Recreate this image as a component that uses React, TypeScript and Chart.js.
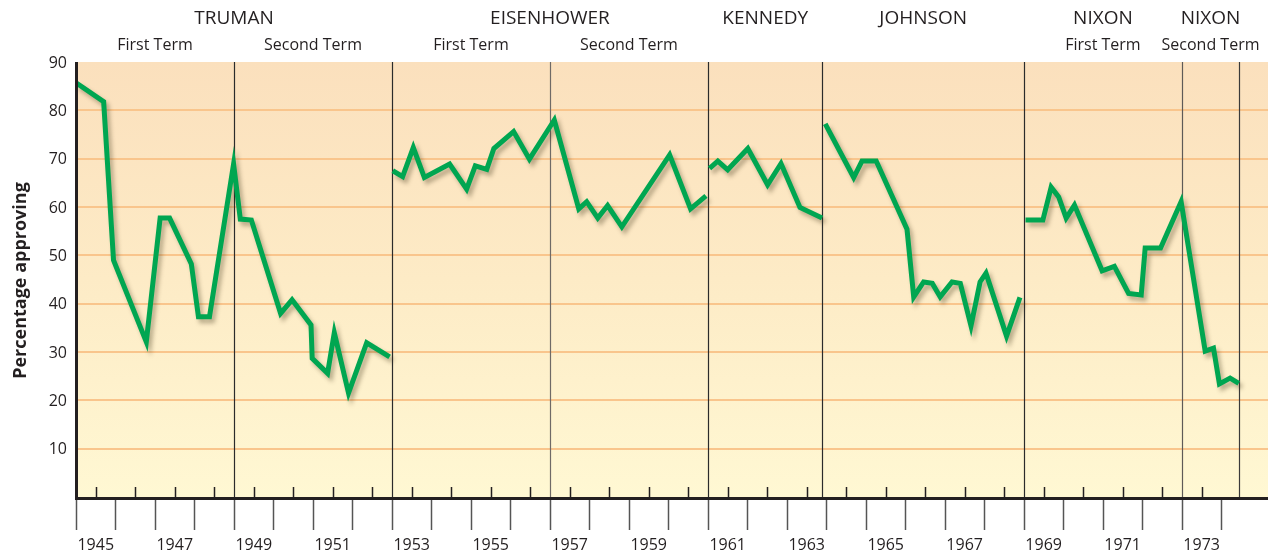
import React, { useEffect, useRef } from 'react';
import { Chart, registerables } from 'chart.js';

Chart.register(...registerables);

// ---- Data ----
const trumanYears = [1945.02, 1945.70, 1945.95, 1946.78, 1947.13, 1947.37, 1947.92, 1948.10, 1948.38, 1948.99, 1949.16, 1949.44, 1950.18, 1950.47, 1950.95, 1950.98, 1951.37, 1951.54, 1951.90, 1952.36, 1952.94];
const trumanValues = [85.6, 81.8, 49.0, 32.1, 57.7, 57.7, 48.2, 37.3, 37.3, 68.9, 57.5, 57.3, 38.0, 40.8, 35.6, 28.7, 25.6, 34.0, 21.5, 31.9, 29.0];

const eisenhowerYears = [1953.02, 1953.27, 1953.54, 1953.82, 1954.46, 1954.89, 1955.11, 1955.40, 1955.58, 1956.08, 1956.48, 1957.11, 1957.73, 1957.93, 1958.21, 1958.46, 1958.82, 1960.03, 1960.56, 1960.95];
const eisenhowerValues = [67.5, 66.3, 72.3, 66.1, 68.9, 63.7, 68.5, 67.8, 72.1, 75.6, 69.9, 78.0, 59.6, 61.1, 57.7, 60.3, 55.9, 70.8, 59.6, 62.3];

const kennedyYears = [1961.04, 1961.25, 1961.50, 1962.01, 1962.51, 1962.85, 1963.33, 1963.89];
const kennedyValues = [68.0, 69.5, 67.7, 72.1, 64.6, 69.0, 59.9, 57.7];

const johnsonYears = [1963.97, 1964.69, 1964.90, 1965.26, 1966.04, 1966.21, 1966.46, 1966.68, 1966.88, 1967.18, 1967.39, 1967.66, 1967.89, 1968.04, 1968.56, 1968.90];
const johnsonValues = [77.2, 66.1, 69.5, 69.5, 55.4, 41.4, 44.5, 44.2, 41.4, 44.5, 44.2, 35.4, 44.5, 46.3, 33.3, 41.3];

const nixonYears = [1969.04, 1969.48, 1969.69, 1969.88, 1970.07, 1970.28, 1970.98, 1971.29, 1971.65, 1971.97, 1972.07, 1972.46, 1972.98, 1973.59, 1973.80, 1973.95, 1974.22, 1974.44];
const nixonValues = [57.3, 57.3, 64.1, 62.1, 57.7, 60.4, 46.8, 47.7, 42.1, 41.8, 51.5, 51.5, 61.1, 30.2, 30.8, 23.4, 24.6, 23.5];

// ---- Labels / ticks ----
const presidentNames = ['TRUMAN', 'EISENHOWER', 'KENNEDY', 'JOHNSON', 'NIXON', 'NIXON'];
const presidentStarts = [1945, 1953, 1961, 1963.9, 1969, 1973];
const presidentEnds = [1953, 1961, 1963.9, 1969, 1973, 1974.45];

const termNames = ['First Term', 'Second Term', 'First Term', 'Second Term', 'First Term', 'Second Term'];
const termStarts = [1945, 1949, 1953, 1957, 1969, 1973];
const termEnds = [1949, 1953, 1957, 1961, 1973, 1974.45];

const dividerYears = [1949, 1953, 1957, 1961, 1963.9, 1969, 1973, 1974.45];
const dividerColors = ['#2b2b2b', '#2b2b2b', '#6f6a66', '#2b2b2b', '#2b2b2b', '#2b2b2b', '#5e5a57', '#3a3a3a'];

const yTickValues = [10, 20, 30, 40, 50, 60, 70, 80, 90];
const gridValues = [10, 20, 30, 40, 50, 60, 70, 80];

const yearTicks = [1945, 1946, 1947, 1948, 1949, 1950, 1951, 1952, 1953, 1954, 1955, 1956, 1957, 1958, 1959, 1960, 1961, 1962, 1963, 1964, 1965, 1966, 1967, 1968, 1969, 1970, 1971, 1972, 1973, 1974];
const halfYearTicks = [1945.5, 1946.5, 1947.5, 1948.5, 1949.5, 1950.5, 1951.5, 1952.5, 1953.5, 1954.5, 1955.5, 1956.5, 1957.5, 1958.5, 1959.5, 1960.5, 1961.5, 1962.5, 1963.5, 1964.5, 1965.5, 1966.5, 1967.5, 1968.5, 1969.5, 1970.5, 1971.5, 1972.5, 1973.5];
const yearLabels = [1945, 1947, 1949, 1951, 1953, 1955, 1957, 1959, 1961, 1963, 1965, 1967, 1969, 1971, 1973];

const FONT = '"Open Sans", "Noto Sans", sans-serif';
const TEXT = '#231f20';
const GREEN = '#00a651';

const toPoints = (xs: number[], ys: number[]) => xs.map((x, i) => ({ x, y: ys[i] }));

const decorPlugin = {
  id: 'decor',
  beforeDatasetsDraw(chart: any) {
    const { ctx, chartArea: a, scales } = chart;
    const x = scales.x;
    const y = scales.y;
    ctx.save();
    const g = ctx.createLinearGradient(0, a.top, 0, a.bottom);
    g.addColorStop(0, '#fbe0bd');
    g.addColorStop(0.5, '#fdebc6');
    g.addColorStop(1, '#fff8d3');
    ctx.fillStyle = g;
    ctx.fillRect(a.left, a.top, a.right - a.left, a.bottom - a.top);

    ctx.strokeStyle = '#f9c58c';
    ctx.lineWidth = 2;
    gridValues.forEach((v) => {
      const py = Math.round(y.getPixelForValue(v));
      ctx.beginPath();
      ctx.moveTo(a.left, py);
      ctx.lineTo(a.right, py);
      ctx.stroke();
    });

    dividerYears.forEach((yr, i) => {
      const px = Math.round(x.getPixelForValue(yr)) + 0.5;
      ctx.strokeStyle = dividerColors[i];
      ctx.lineWidth = 1.2;
      ctx.beginPath();
      ctx.moveTo(px, a.top);
      ctx.lineTo(px, a.bottom);
      ctx.stroke();
    });

    ctx.strokeStyle = '#231f20';
    ctx.lineWidth = 1.5;
    halfYearTicks.forEach((yr) => {
      const px = Math.round(x.getPixelForValue(yr)) + 0.5;
      ctx.beginPath();
      ctx.moveTo(px, a.bottom - 10);
      ctx.lineTo(px, a.bottom);
      ctx.stroke();
    });
    ctx.restore();
  },
  beforeDatasetDraw(chart: any) {
    const ctx = chart.ctx;
    ctx.save();
    ctx.shadowColor = 'rgba(60, 50, 20, 0.35)';
    ctx.shadowBlur = 4;
    ctx.shadowOffsetX = 3;
    ctx.shadowOffsetY = 4;
  },
  afterDatasetDraw(chart: any) {
    chart.ctx.restore();
  },
  afterDatasetsDraw(chart: any) {
    const { ctx, chartArea: a, scales } = chart;
    const x = scales.x;
    const y = scales.y;
    ctx.save();

    // ticks below the axis
    ctx.strokeStyle = '#555';
    ctx.lineWidth = 1.5;
    yearTicks.forEach((yr) => {
      const px = Math.round(x.getPixelForValue(yr)) + 0.5;
      ctx.beginPath();
      ctx.moveTo(px, a.bottom);
      ctx.lineTo(px, a.bottom + 33);
      ctx.stroke();
    });

    // axes
    ctx.strokeStyle = '#231f20';
    ctx.lineWidth = 3;
    ctx.beginPath();
    ctx.moveTo(a.left + 0.5, a.top);
    ctx.lineTo(a.left + 0.5, a.bottom + 1.5);
    ctx.lineTo(a.right, a.bottom + 1.5);
    ctx.stroke();

    // year labels
    ctx.fillStyle = TEXT;
    ctx.font = `16px ${FONT}`;
    ctx.textAlign = 'center';
    ctx.textBaseline = 'middle';
    yearLabels.forEach((yr) => {
      ctx.fillText(String(yr), x.getPixelForValue(yr + 0.5), a.bottom + 48);
    });

    // y labels
    ctx.textAlign = 'right';
    yTickValues.forEach((v) => {
      ctx.fillText(String(v), a.left - 9, y.getPixelForValue(v) + 1);
    });

    // header: presidents
    ctx.textAlign = 'center';
    ctx.font = `19px ${FONT}`;
    presidentNames.forEach((n, i) => {
      const cx = (x.getPixelForValue(presidentStarts[i]) + x.getPixelForValue(presidentEnds[i])) / 2;
      ctx.fillText(n, cx, 19);
    });
    ctx.font = `16px ${FONT}`;
    termNames.forEach((n, i) => {
      const cx = (x.getPixelForValue(termStarts[i]) + x.getPixelForValue(termEnds[i])) / 2;
      ctx.fillText(n, cx, 45);
    });

    // y title
    ctx.save();
    ctx.translate(21, (a.top + a.bottom) / 2 + 1);
    ctx.rotate(-Math.PI / 2);
    ctx.font = `bold 18px ${FONT}`;
    ctx.fillText('Percentage approving', 0, 0);
    ctx.restore();

    ctx.restore();
  },
};

export default function App() {
  const ref = useRef<HTMLCanvasElement | null>(null);
  useEffect(() => {
    if (!ref.current) return;
    const mk = (xs: number[], ys: number[], label: string) => ({
      label,
      data: toPoints(xs, ys),
      borderColor: GREEN,
      backgroundColor: GREEN,
      borderWidth: 5,
      pointRadius: 0,
      tension: 0,
      borderJoinStyle: 'miter' as const,
      borderCapStyle: 'butt' as const,
      fill: false,
    });
    const chart = new Chart(ref.current, {
      type: 'line',
      data: {
        datasets: [
          mk(trumanYears, trumanValues, 'Truman'),
          mk(eisenhowerYears, eisenhowerValues, 'Eisenhower'),
          mk(kennedyYears, kennedyValues, 'Kennedy'),
          mk(johnsonYears, johnsonValues, 'Johnson'),
          mk(nixonYears, nixonValues, 'Nixon'),
        ],
      },
      options: {
        responsive: false,
        animation: false,
        devicePixelRatio: 1,
        layout: { padding: { left: 76, right: 7, top: 62, bottom: 58 } },
        scales: {
          x: { type: 'linear', min: 1945, max: 1975.18, display: false },
          y: { type: 'linear', min: 0, max: 90, display: false },
        },
        plugins: {
          legend: { display: false },
          tooltip: { enabled: false },
        },
        events: [],
      },
      plugins: [decorPlugin],
    });
    return () => chart.destroy();
  }, []);
  return (
    <div style={{ position: 'absolute', left: 0, top: 0, width: 1275, height: 555, background: '#ffffff' }}>
      <canvas ref={ref} width={1275} height={555} style={{ display: 'block', width: 1275, height: 555 }} />
    </div>
  );
}
